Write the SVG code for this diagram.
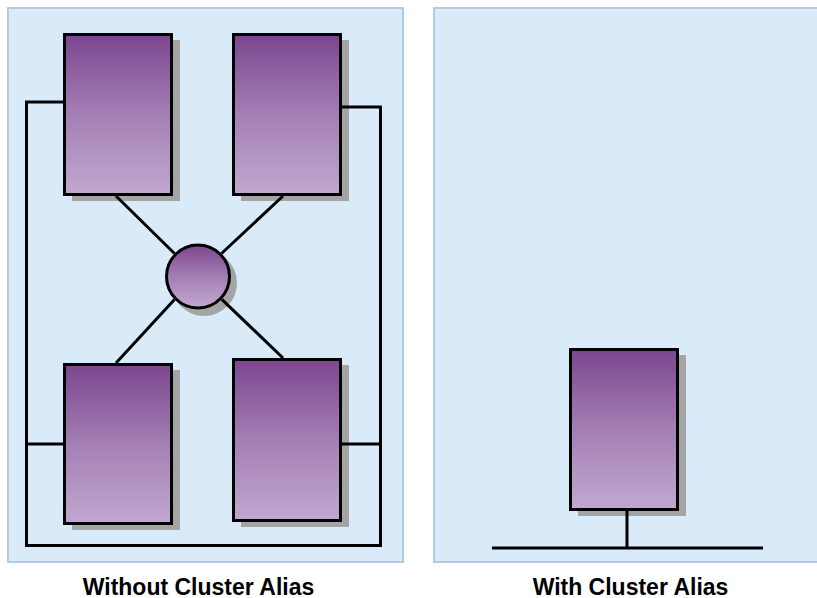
<svg xmlns="http://www.w3.org/2000/svg" width="817" height="598" viewBox="0 0 817 598">
  <defs>
    <linearGradient id="purple" x1="0" y1="0" x2="0" y2="1">
      <stop offset="0" stop-color="#7b468f"/>
      <stop offset="0.5" stop-color="#a47fb4"/>
      <stop offset="1" stop-color="#c1a8d0"/>
    </linearGradient>
    <style>
      .panel { fill: #d9eaf8; stroke: #b2c9e8; stroke-width: 2; }
      .box { fill: url(#purple); stroke: #000; stroke-width: 3; }
      .shadow { fill: #a4a4a4; }
      .wire { fill: none; stroke: #000; stroke-width: 3; }
      .label { font-family: "Liberation Sans", Arial, sans-serif; font-weight: bold; font-size: 23px; fill: #000; text-anchor: middle; }
    </style>
  </defs>

  <rect width="817" height="598" fill="#fff"/>

  <!-- Panels -->
  <rect class="panel" x="8" y="8" width="395" height="554"/>
  <rect class="panel" x="434" y="8" width="400" height="554"/>

  <!-- Nodes: left panel -->
  <g id="node-top-left">
    <rect class="shadow" x="72" y="40" width="108" height="161"/>
    <rect class="box" x="64.5" y="34.5" width="107" height="160"/>
  </g>
  <g id="node-top-right">
    <rect class="shadow" x="241" y="40" width="108" height="161"/>
    <rect class="box" x="233.5" y="34.5" width="107" height="160"/>
  </g>
  <g id="node-bottom-left">
    <rect class="shadow" x="72" y="370" width="108" height="160"/>
    <rect class="box" x="64.5" y="364.5" width="107" height="159"/>
  </g>
  <g id="node-bottom-right">
    <rect class="shadow" x="241" y="365" width="108" height="162"/>
    <rect class="box" x="233.5" y="359.5" width="107" height="161"/>
  </g>
  <g id="node-hub">
    <circle class="shadow" cx="204" cy="283" r="33"/>
    <circle class="box" cx="198" cy="276.5" r="31.5"/>
  </g>

  <!-- Node: right panel -->
  <g id="node-alias">
    <rect class="shadow" x="578" y="355" width="108" height="161"/>
    <rect class="box" x="570.5" y="349.5" width="107" height="160"/>
  </g>

  <!-- Connectors -->
  <g id="connectors">
    <polyline class="wire" points="63,102 26.5,102 26.5,545.5 380.5,545.5 380.5,107 342,107"/>
    <line class="wire" x1="26.5" y1="444" x2="63" y2="444"/>
    <line class="wire" x1="342" y1="444" x2="380.5" y2="444"/>
    <line class="wire" x1="116" y1="196" x2="174.5" y2="253.5"/>
    <line class="wire" x1="283" y1="196" x2="221.5" y2="253.5"/>
    <line class="wire" x1="116" y1="363" x2="174.5" y2="299.5"/>
    <line class="wire" x1="283" y1="358" x2="221.8" y2="299.3"/>
    <line class="wire" x1="627" y1="511" x2="627" y2="548"/>
    <line class="wire" x1="492" y1="548" x2="763" y2="548"/>
  </g>

  <!-- Captions -->
  <text class="label" x="198.5" y="594.5">Without Cluster Alias</text>
  <text class="label" x="630.5" y="594.5">With Cluster Alias</text>
</svg>
